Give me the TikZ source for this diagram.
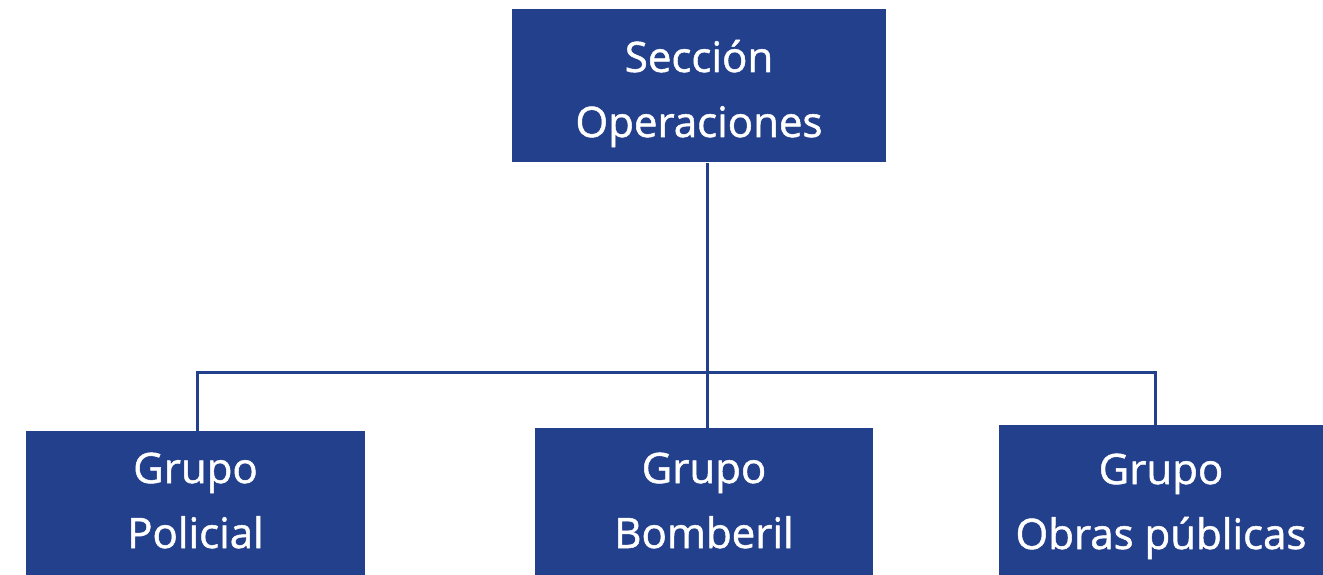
\documentclass[tikz,border=0pt]{standalone}
\usepackage{fontspec}
\setmainfont[FakeBold=1.2]{Open Sans}
\usepackage{tikz}
\definecolor{orgblue}{RGB}{35,64,140}
% first line raised by #1, fixed depth under the second line
\newcommand\twolines[3]{\rule{0pt}{#1pt}#2\\#3\rule[-15pt]{0pt}{15pt}}
\tikzset{
  unit/.style={fill=orgblue,draw=none,text=white,align=center,inner sep=0pt,
    font=\fontsize{42}{65}\selectfont},
  link/.style={draw=orgblue,line width=3pt},
}

\begin{document}
\begin{tikzpicture}[x=1pt,y=-1pt]
  \useasboundingbox (0,0) rectangle (1323,575);
  \node[unit,minimum width=374pt,minimum height=153pt] (sec) at (699,86) {\twolines{52}{Sección}{Operaciones}};
  \node[unit,minimum width=339pt,minimum height=144pt] (pol) at (195.5,503) {\twolines{40}{Grupo}{Policial}};
  \node[unit,minimum width=338pt,minimum height=147pt] (bom) at (704,501.5) {\twolines{43}{Grupo}{Bomberil}};
  \node[unit,minimum width=324pt,minimum height=150pt] (obr) at (1161,500) {\twolines{48}{Grupo}{Obras públicas}};
  \coordinate (hub) at (707,372);
  \draw[link] (hub) -- (hub |- sec.south);
  \draw[link] (hub) -- (hub |- bom.north);
  \draw[link] ([xshift=1.5pt]pol.north) |- (hub) -| ([xshift=-6pt]obr.north);
\end{tikzpicture}
\end{document}
